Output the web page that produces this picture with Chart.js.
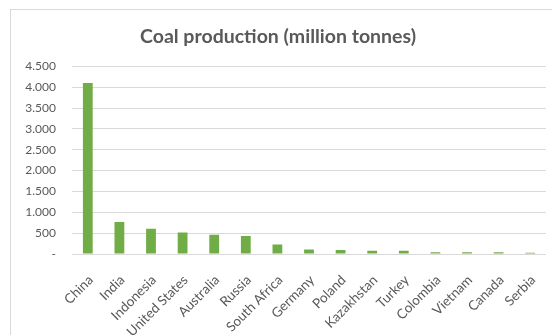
<!DOCTYPE html>
<html>
<head>
<meta charset="utf-8">
<script src="https://cdn.jsdelivr.net/npm/chart.js@4/dist/chart.umd.min.js"></script>
<style>
  html, body { margin: 0; padding: 0; background: #fff; overflow: hidden; }
  #wrap { position: relative; width: 552px; height: 335px; }
  #frame { position: absolute; left: 10px; top: 9px; width: 600px; height: 400px; border: 1px solid #d9d9d9; }
  #coal_chart { position: absolute; left: 0; top: 0; }
</style>
</head>
<body>
<div id="wrap">
  <div id="frame"></div>
  <canvas id="coal_chart" width="552" height="335"></canvas>
</div>
<script>
// ---- data
const countries  = ['China', 'India', 'Indonesia', 'United States', 'Australia', 'Russia', 'South Africa',
                    'Germany', 'Poland', 'Kazakhstan', 'Turkey', 'Colombia', 'Vietnam', 'Canada', 'Serbia'];
const production = [4100, 765, 605, 515, 462, 430, 230, 110, 96, 80, 78, 42, 40, 40, 32];
const yTicks     = [0, 500, 1000, 1500, 2000, 2500, 3000, 3500, 4000, 4500];

const textColor = '#595959';
const gridColor = '#d9d9d9';
const fontName  = 'Lato, "Liberation Sans", sans-serif';

function fmtThousands(v) {
    if (v === 0) return '-';
    return String(v).replace(/\B(?=(\d{3})+(?!\d))/g, '.');
}

// ---- chart
const ctx = document.getElementById('coal_chart').getContext('2d');
const chart = new Chart(ctx, {
    type: 'bar',
    data: {
        labels: countries,
        datasets: [{
            data: production,
            backgroundColor: '#70ad47',
            borderWidth: 0,
            barPercentage: 0.62,
            categoryPercentage: 0.5
        }]
    },
    options: {
        responsive: false,
        animation: false,
        layout: { padding: { left: 10, right: 6, top: 0, bottom: 0 } },
        plugins: {
            legend: { display: false },
            tooltip: { enabled: false },
            title: {
                display: true,
                text: 'Coal production (million tonnes)',
                color: textColor,
                font: { family: fontName, size: 19.5, weight: 'bold' },
                padding: { top: 25, bottom: 18 }
            }
        },
        scales: {
            x: {
                grid: { display: false },
                border: { display: false },
                ticks: {
                    color: textColor,
                    font: { family: fontName, size: 13.5 },
                    autoSkip: false,
                    minRotation: 45,
                    maxRotation: 45,
                    labelOffset: 3,
                    padding: 10
                },
                afterFit: function(scale) { scale.height = 81; }
            },
            y: {
                min: 0,
                max: 4500,
                afterBuildTicks: function(scale) {
                    scale.ticks = yTicks.map(v => ({ value: v }));
                },
                grid: { color: gridColor, lineWidth: 1, drawTicks: false },
                border: { display: false },
                ticks: {
                    color: textColor,
                    font: { family: fontName, size: 12 },
                    padding: 16,
                    callback: v => fmtThousands(v)
                },
                afterFit: function(scale) { scale.width = 62; }
            }
        }
    }
});
</script>
</body>
</html>
